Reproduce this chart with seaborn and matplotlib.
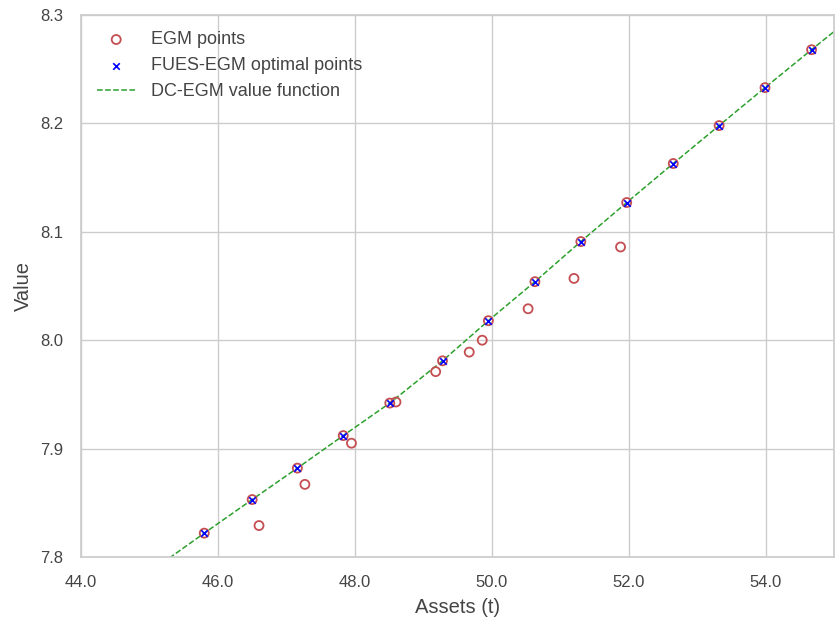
import numpy as np
import pandas as pd
import matplotlib
matplotlib.use("Agg")
import matplotlib.pyplot as plt
import seaborn as sns

# Optimal (FUES-EGM) points, also EGM points
opt_x = [45.80, 46.50, 47.16, 47.83, 48.51, 49.28, 49.95, 50.63, 51.30, 51.97, 52.65, 53.32, 53.99, 54.67]
opt_v = [7.822, 7.853, 7.882, 7.912, 7.942, 7.981, 8.018, 8.054, 8.091, 8.127, 8.163, 8.198, 8.233, 8.268]

# Sub-optimal EGM points
sub_x = [46.60, 47.27, 47.95, 48.60, 49.18, 49.67, 49.86, 50.53, 51.20, 51.88]
sub_v = [7.829, 7.867, 7.905, 7.943, 7.971, 7.989, 8.000, 8.029, 8.057, 8.086]

# DC-EGM value function line
line_x = [45.00, 45.80, 46.50, 47.16, 47.83, 48.51, 49.28, 49.95, 50.63, 51.30, 51.97, 52.65, 53.32, 53.99, 54.67, 55.20]
line_v = [7.786, 7.822, 7.853, 7.882, 7.912, 7.942, 7.981, 8.018, 8.054, 8.091, 8.127, 8.163, 8.198, 8.233, 8.268, 8.295]

x_ticks = [44, 46, 48, 50, 52, 54]
y_ticks = [7.8, 7.9, 8.0, 8.1, 8.2, 8.3]

egm_x = opt_x + sub_x
egm_v = opt_v + sub_v

sns.set_theme(style="whitegrid")
plt.rcParams['font.family'] = ['Liberation Sans', 'DejaVu Sans']

fig, ax = plt.subplots(figsize=(8.35, 6.21), dpi=100)
fig.subplots_adjust(left=81/835, right=0.999, top=1-15/621, bottom=1-557/621)

egm_df = pd.DataFrame({"x": egm_x, "v": egm_v})
opt_df = pd.DataFrame({"x": opt_x, "v": opt_v})
line_df = pd.DataFrame({"x": line_x, "v": line_v})

sns.scatterplot(data=egm_df, x="x", y="v", ax=ax, marker="o", s=42,
                facecolors="none", edgecolor="#c44e52", linewidth=1.3,
                label="EGM points", zorder=3)
sns.scatterplot(data=opt_df, x="x", y="v", ax=ax, marker="x", s=22,
                color="blue", linewidth=1.2, label="FUES-EGM optimal points", zorder=4)
sns.lineplot(data=line_df, x="x", y="v", ax=ax, color="#2ca02c", linestyle="--",
             linewidth=1.1, label="DC-EGM value function", zorder=2, sort=False)

ax.set_xlim(44, 55)
ax.set_ylim(7.8, 8.3)
ax.set_xticks(x_ticks)
ax.set_xticklabels([f"{t:.1f}" for t in x_ticks])
ax.set_yticks(y_ticks)
ax.set_yticklabels([f"{t:.1f}" for t in y_ticks])
ax.set_xlabel("Assets (t)", fontsize=14.5, color="#444444", labelpad=6)
ax.set_ylabel("Value", fontsize=14.5, color="#444444", labelpad=5)
ax.tick_params(axis="x", labelsize=12, pad=7, labelcolor="#444444")
ax.tick_params(axis="y", labelsize=12, pad=7, labelcolor="#444444")

leg = ax.legend(loc="upper left", frameon=False, fontsize=13, handlelength=2.1,
                handletextpad=0.85)
for t in leg.get_texts():
    t.set_color("#444444")

fig.savefig("out.png", dpi=100)
